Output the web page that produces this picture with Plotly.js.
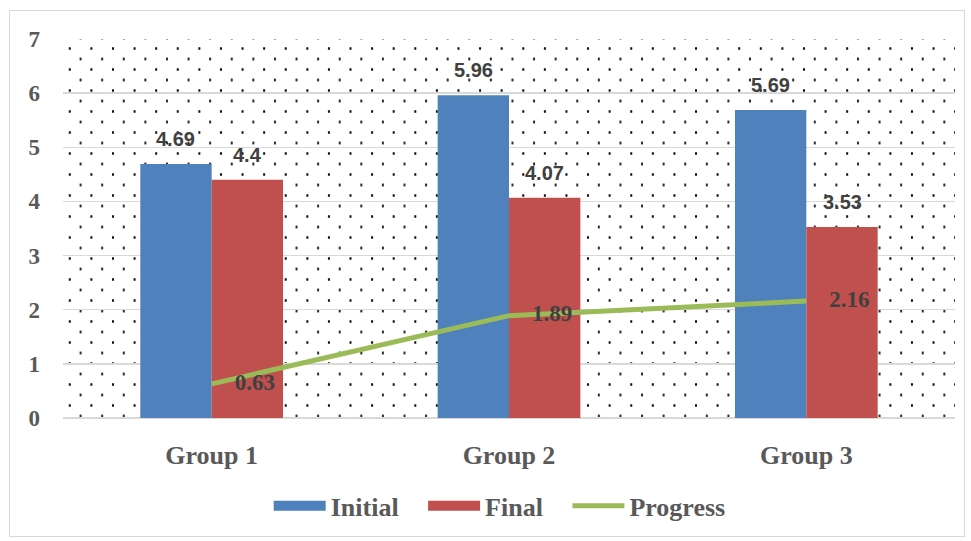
<!DOCTYPE html>
<html>
<head>
<meta charset="utf-8">
<script src="https://cdn.plot.ly/plotly-3.0.1.min.js"></script>
<style>
  html, body { margin: 0; padding: 0; background: #ffffff; }
  #wrap { position: relative; width: 971px; height: 541px; }
  #frame { position: absolute; left: 9px; top: 10px; width: 956px; height: 527px; border: 1px solid #d9d9d9; box-sizing: border-box; }
  #dots { position: absolute; left: 63px; top: 39px; width: 892px; height: 382px;
    background-image: radial-gradient(circle, #111 1px, rgba(0,0,0,0) 1.5px), radial-gradient(circle, #111 1px, rgba(0,0,0,0) 1.5px);
    background-size: 21.6px 21px, 21.6px 21px;
    background-position: -4px -1px, 6.8px 9.5px; }
  #chart { position: absolute; left: 0; top: 0; width: 971px; height: 541px; }
</style>
</head>
<body>
<div id="wrap">
  <div id="frame"></div>
  <div id="dots"></div>
  <div id="chart"></div>
</div>
<script>
const categories = ["Group 1", "Group 2", "Group 3"];
const initialValues = [4.69, 5.96, 5.69];
const finalValues = [4.4, 4.07, 3.53];
const progressValues = [0.63, 1.89, 2.16];
const seriesNames = ["Initial", "Final", "Progress"];
const yTicks = [0, 1, 2, 3, 4, 5, 6, 7];

const blue = "#4f81bd", red = "#c0504d", green = "#9bbb59";
const serif = "Liberation Serif, Times New Roman, serif";
const sans = "Liberation Sans, Arial, sans-serif";
const bargap = 0.52;
const barW = (1 - bargap) / 2;
const pad = "\u00a0\u00a0\u00a0";

const traces = [
  { type: "bar", x: categories, y: initialValues, name: seriesNames[0], marker: { color: blue },
    showlegend: false, hoverinfo: "skip" },
  { type: "bar", x: categories, y: finalValues, name: seriesNames[1], marker: { color: red },
    showlegend: false, hoverinfo: "skip" },
  { type: "scatter", mode: "lines+text", x: categories, y: progressValues, name: seriesNames[2],
    line: { color: green, width: 5 },
    text: progressValues.map(v => "\u00a0\u00a0\u00a0\u00a0" + v), textposition: "middle right",
    textfont: { family: serif, size: 23, color: "#404040", weight: "bold" }, cliponaxis: false, showlegend: false },
  { type: "scatter", mode: "lines", x: [null], y: [null], name: seriesNames[0] + pad, line: { color: blue, width: 13 } },
  { type: "scatter", mode: "lines", x: [null], y: [null], name: seriesNames[1] + pad, line: { color: red, width: 13 } },
  { type: "scatter", mode: "lines", x: [null], y: [null], name: seriesNames[2], line: { color: green, width: 5 } }
];

const barLabelFont = { family: sans, size: 20, color: "#404040", weight: "bold" };
const annotations = [];
[initialValues, finalValues].forEach((vals, s) => {
  vals.forEach((v, i) => {
    annotations.push({ x: i + (s === 0 ? -barW / 2 : barW / 2), y: v, xref: "x", yref: "y",
      text: String(v), showarrow: false, yanchor: "bottom", yshift: 12, font: barLabelFont });
  });
});

const layout = {
  width: 971, height: 541,
  margin: { l: 63, r: 16, t: 39, b: 120 },
  paper_bgcolor: "rgba(0,0,0,0)", plot_bgcolor: "rgba(0,0,0,0)",
  barmode: "group", bargap: bargap, bargroupgap: 0,
  annotations: annotations,
  xaxis: { type: "category", showgrid: false, zeroline: false, showline: false, ticks: "",
    ticklabelstandoff: 19,
    tickfont: { family: serif, size: 26, color: "#595959", weight: "bold" } },
  yaxis: { range: [0, 7], tickvals: yTicks, showgrid: true, gridcolor: "#d9d9d9", gridwidth: 1.5,
    zeroline: true, zerolinecolor: "#d9d9d9", zerolinewidth: 1.5, showline: false, ticks: "",
    ticklabelstandoff: 22,
    tickfont: { family: serif, size: 23, color: "#595959", weight: "bold" } },
  legend: { orientation: "h", x: 0.2306, xanchor: "left", y: -0.17, yanchor: "top",
    itemwidth: 52,
    font: { family: serif, size: 26, color: "#595959", weight: "bold" },
    bgcolor: "rgba(0,0,0,0)" },
  showlegend: true
};

Plotly.newPlot("chart", traces, layout, { displayModeBar: false, staticPlot: true });
</script>
</body>
</html>
